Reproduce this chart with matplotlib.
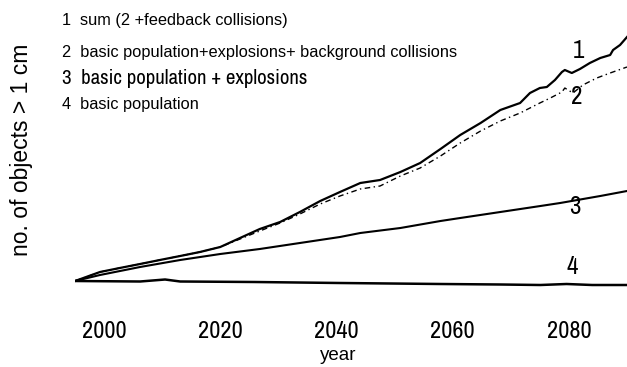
import matplotlib
matplotlib.use("Agg")
import matplotlib.pyplot as plt
from matplotlib import font_manager

# years and growth curves (height above the 1995 level, arbitrary units)
yr_sum = [1995.0, 1999.3, 2002.7, 2006.2, 2009.6, 2013.1, 2016.5, 2020.0, 2023.4,
          2026.8, 2030.3, 2033.7, 2037.2, 2040.6, 2044.1, 2047.5, 2051.0, 2054.4,
          2057.9, 2061.3, 2064.8, 2068.2, 2071.6, 2073.3, 2075.0, 2076.2, 2077.6,
          2078.8, 2079.3, 2080.5, 2081.9, 2083.6, 2085.4, 2087.1, 2087.6, 2088.8,
          2090.0]
v_sum = [0, 9, 13, 17, 21, 25, 29, 34, 43, 52, 59, 69, 80, 89, 98, 101, 109, 118,
         132, 146, 158, 171, 178, 188, 193, 194, 201, 209, 211, 208, 212, 218, 223,
         226, 231, 236, 244]

yr_bg = [1995.0, 1999.3, 2002.7, 2006.2, 2009.6, 2013.1, 2016.5, 2020.0, 2023.4,
         2026.8, 2030.3, 2033.7, 2037.2, 2040.6, 2044.1, 2047.5, 2051.0, 2054.4,
         2057.9, 2061.3, 2064.8, 2068.2, 2071.6, 2073.3, 2075.0, 2076.8, 2078.8,
         2079.3, 2080.7, 2082.4, 2084.8, 2087.1, 2090.0]
v_bg = [0, 9, 13, 17, 21, 25, 29, 34, 42, 50, 58, 67, 77, 85, 92, 95, 105, 113,
        125, 138, 150, 160, 168, 173, 178, 183, 189, 193, 188, 196, 203, 208, 214]

yr_expl = [1995.0, 1999.3, 2006.2, 2013.1, 2020.0, 2026.8, 2033.7, 2040.6, 2044.1,
           2051.0, 2057.9, 2061.3, 2068.2, 2075.1, 2078.5, 2085.4, 2090.0]
v_expl = [0, 6, 14, 21, 27, 32, 38, 44, 48, 53, 60, 63, 69, 75, 78, 85, 90]

yr_basic = [1995.0, 2006.2, 2010.5, 2013.1, 2025.9, 2040.6, 2057.9, 2068.2,
            2075.1, 2079.6, 2084.0, 2090.0]
v_basic = [0, -0.5, 1.5, -0.5, -1, -2, -3, -3.5, -4, -3, -4, -4]

x_ticks = [2000, 2020, 2040, 2060, 2080]

legend_rows = ["1  sum (2 +feedback collisions)",
               "2  basic population+explosions+ background collisions",
               "3  basic population + explosions",
               "4  basic population"]


def find_narrow():
    # look for a condensed / narrow sans face among the installed fonts
    best = None
    for f in font_manager.fontManager.ttflist:
        if f.style != "normal":
            continue
        if str(f.weight) not in ("400", "normal", "regular", "500", "medium"):
            continue
        st = str(f.stretch)
        narrowish = ("Narrow" in f.name or "Condensed" in f.name or
                     st in ("condensed", "semi-condensed", "extra-condensed") or
                     (st.isdigit() and int(st) < 500))
        if not narrowish or "Mono" in f.name or "Serif" in f.name:
            continue
        rank = 0 if "Narrow" in f.name else (1 if st == "condensed" else 2)
        if best is None or rank < best[0]:
            best = (rank, f.fname)
    if best:
        return font_manager.FontProperties(fname=best[1])
    return font_manager.FontProperties(family="Liberation Sans")


narrow = find_narrow()
plain = "Liberation Sans"

fig = plt.figure(figsize=(6.27, 3.67), dpi=100)
W, H = 627.0, 367.0
ax = fig.add_axes([75 / W, (H - 300) / H, (627 - 75) / W, 280 / H])

ax.plot(yr_sum, v_sum, color="black", lw=1.6)
ax.plot(yr_bg, v_bg, color="black", lw=1.0, linestyle=(0, (4, 2.5, 1, 2.5)))
ax.plot(yr_expl, v_expl, color="black", lw=1.5)
ax.plot(yr_basic, v_basic, color="black", lw=1.8)

ax.set_xlim(1995, 2090)
ax.set_ylim(-19, 261)
ax.set_xticks(x_ticks)
ax.set_xticklabels([str(t) for t in x_ticks], fontproperties=narrow, fontsize=17.5)
ax.tick_params(axis="x", length=0, pad=15)
ax.set_yticks([])
for s in ax.spines.values():
    s.set_visible(False)

# curve numbers near the right edge
ax.text(2081.6, 230, "1", fontproperties=narrow, fontsize=18, ha="center", va="center")
ax.text(2081.3, 184, "2", fontproperties=narrow, fontsize=18, ha="center", va="center")
ax.text(2081.1, 75, "3", fontproperties=narrow, fontsize=18, ha="center", va="center")
ax.text(2080.6, 15, "4", fontproperties=narrow, fontsize=18, ha="center", va="center")

fig.text(338 / W, (H - 355) / H, "year", family=plain, fontsize=13.5,
         ha="center", va="center")
fig.text(22 / W, (H - 150) / H, "no. of objects > 1 cm", family=plain,
         fontsize=16.5, rotation=90, ha="center", va="center")

# legend block at the top left
fig.text(62 / W, (H - 20) / H, legend_rows[0], family=plain, fontsize=11.8, va="center")
fig.text(62 / W, (H - 53) / H, legend_rows[1], family=plain, fontsize=11.8, va="center")
fig.text(62 / W, (H - 78) / H, legend_rows[2], fontproperties=narrow, fontsize=15,
         va="center")
fig.text(62 / W, (H - 105) / H, legend_rows[3], family=plain, fontsize=11.8, va="center")

fig.savefig("out.png", dpi=100)
